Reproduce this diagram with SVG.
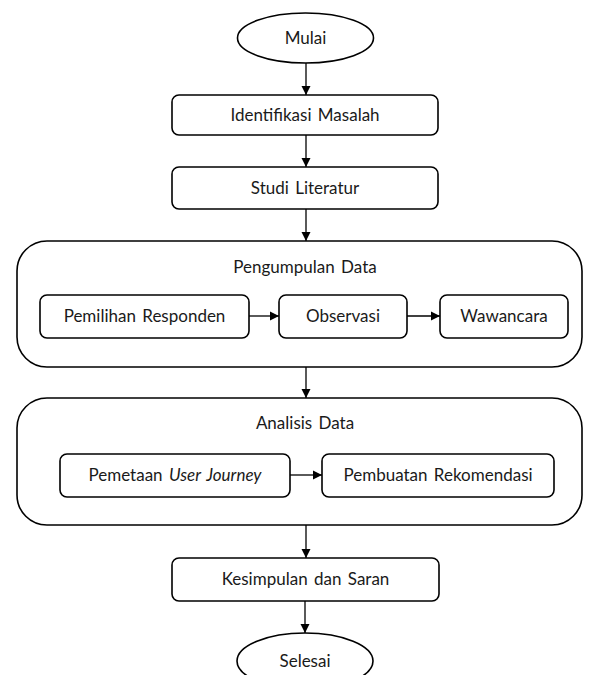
<svg xmlns="http://www.w3.org/2000/svg" width="595" height="675" viewBox="0 0 595 675">
<style>
.s{fill:#fff;stroke:#000;stroke-width:1.6}
.t{font-family:Lato,"Open Sans",sans-serif;font-size:17px;fill:#1a1a1a;text-anchor:middle;word-spacing:2px}
.c line{stroke:#000;stroke-width:1.3;marker-end:url(#a)}
</style>
<defs>
<marker id="a" markerWidth="10" markerHeight="10" refX="9" refY="5" orient="auto" markerUnits="userSpaceOnUse">
<path d="M0,0.5 L9,5 L0,9.5 Z" fill="#000"/>
</marker>
</defs>
<rect width="595" height="675" fill="#fff"/>
<g id="mulai"><ellipse class="s" cx="305.5" cy="38" rx="68" ry="25"/><text class="t" x="305.5" y="44">Mulai</text></g>
<g id="identifikasi"><rect class="s" x="172" y="95" width="266" height="40" rx="7"/><text class="t" x="305" y="121">Identifikasi  Masalah</text></g>
<g id="studi"><rect class="s" x="172" y="167" width="266" height="42" rx="7"/><text class="t" x="305" y="194">Studi Literatur</text></g>
<g id="pengumpulan"><rect class="s" x="17" y="241" width="565" height="126" rx="30"/><text class="t" x="305" y="273">Pengumpulan Data</text></g>
<g id="pemilihan"><rect class="s" x="40" y="295" width="209" height="43" rx="7"/><text class="t" x="144.5" y="322">Pemilihan  Responden</text></g>
<g id="observasi"><rect class="s" x="279" y="295" width="128" height="43" rx="7"/><text class="t" x="343" y="322">Observasi</text></g>
<g id="wawancara"><rect class="s" x="440" y="295" width="128" height="43" rx="7"/><text class="t" x="504" y="322">Wawancara</text></g>
<g id="analisis"><rect class="s" x="17" y="398" width="565" height="127" rx="30"/><text class="t" x="305" y="429">Analisis  Data</text></g>
<g id="pemetaan"><rect class="s" x="60" y="454" width="230" height="43" rx="7"/><text class="t" x="175" y="481">Pemetaan <tspan font-style="italic">User Journey</tspan></text></g>
<g id="pembuatan"><rect class="s" x="322" y="454" width="232" height="43" rx="7"/><text class="t" x="438" y="481">Pembuatan  Rekomendasi</text></g>
<g id="kesimpulan"><rect class="s" x="172" y="558" width="267" height="43" rx="7"/><text class="t" x="305.5" y="585">Kesimpulan  dan Saran</text></g>
<g id="selesai"><ellipse class="s" cx="305" cy="661" rx="68" ry="28"/><text class="t" x="305" y="667">Selesai</text></g>
<g class="c" id="connectors">
<line x1="306" y1="63" x2="306" y2="95"/>
<line x1="306" y1="135" x2="306" y2="167"/>
<line x1="306" y1="209" x2="306" y2="241"/>
<line x1="249" y1="316" x2="279" y2="316"/>
<line x1="407" y1="316" x2="440" y2="316"/>
<line x1="306" y1="367" x2="306" y2="398"/>
<line x1="290" y1="475" x2="322" y2="475"/>
<line x1="306" y1="525" x2="306" y2="558"/>
<line x1="305" y1="601" x2="305" y2="633"/>
</g>
</svg>
